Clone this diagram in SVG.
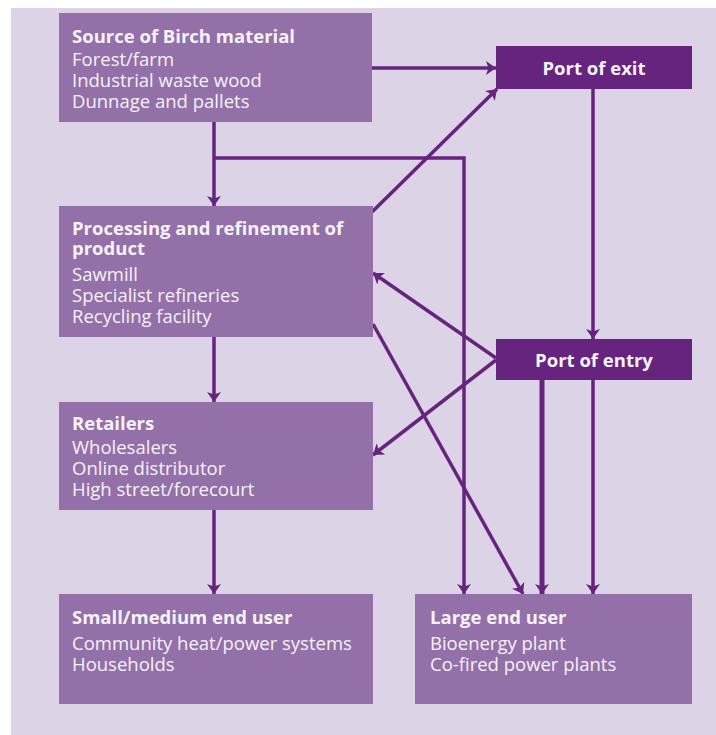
<svg xmlns="http://www.w3.org/2000/svg" width="716" height="735" viewBox="0 0 716 735">
<defs>
<style>
.bg{fill:#dcd4e6}
.box{fill:#9470a9}
.port{fill:#66247e}
.t{font-family:"Open Sans","Noto Sans",sans-serif;font-size:18.5px;fill:#f6f2f9}
.b{font-weight:bold}
.c{fill:none;stroke:#66247e;stroke-width:3.5}
.w{stroke-width:5}
</style>
<marker id="ah" viewBox="0 0 10 14" refX="10" refY="7" markerWidth="10" markerHeight="14" markerUnits="userSpaceOnUse" orient="auto">
<path d="M0,0 L10,7 L0,14 L2.5,7 Z" fill="#66247e"/>
</marker>
</defs>
<rect x="11" y="8" width="705" height="727" class="bg"/>
<g id="connectors">
<line class="c" x1="372" y1="68" x2="496" y2="68" marker-end="url(#ah)"/>
<line class="c" x1="214" y1="122" x2="214" y2="206" marker-end="url(#ah)"/>
<polyline class="c" points="214,158 464,158 464,594" marker-end="url(#ah)"/>
<line class="c" x1="372" y1="212" x2="497" y2="89" marker-end="url(#ah)"/>
<line class="c" x1="496" y1="358" x2="373" y2="273" marker-end="url(#ah)"/>
<line class="c" x1="496" y1="360" x2="373" y2="455" marker-end="url(#ah)"/>
<line class="c" x1="373" y1="324" x2="523" y2="594" marker-end="url(#ah)"/>
<line class="c" x1="593" y1="89" x2="593" y2="339" marker-end="url(#ah)"/>
<line class="c w" x1="542" y1="380" x2="542" y2="594" marker-end="url(#ah)"/>
<line class="c" x1="593" y1="380" x2="593" y2="594" marker-end="url(#ah)"/>
<line class="c" x1="214" y1="337" x2="214" y2="402" marker-end="url(#ah)"/>
<line class="c" x1="214" y1="510" x2="214" y2="594" marker-end="url(#ah)"/>
</g>
<g id="source">
<rect class="box" x="59" y="13" width="313" height="109"/>
<text class="t b" x="72" y="43">Source of Birch material</text>
<text class="t" x="72" y="66">Forest/farm</text>
<text class="t" x="72" y="87">Industrial waste wood</text>
<text class="t" x="72" y="108">Dunnage and pallets</text>
</g>
<g id="port-exit">
<rect class="port" x="496" y="46" width="196" height="43"/>
<text class="t b" x="594" y="75" text-anchor="middle">Port of exit</text>
</g>
<g id="processing">
<rect class="box" x="59" y="206" width="314" height="131"/>
<text class="t b" x="72" y="235">Processing and refinement of</text>
<text class="t b" x="72" y="255">product</text>
<text class="t" x="72" y="281">Sawmill</text>
<text class="t" x="72" y="302">Specialist refineries</text>
<text class="t" x="72" y="323">Recycling facility</text>
</g>
<g id="port-entry">
<rect class="port" x="496" y="339" width="196" height="41"/>
<text class="t b" x="594" y="367" text-anchor="middle">Port of entry</text>
</g>
<g id="retailers">
<rect class="box" x="59" y="402" width="314" height="108"/>
<text class="t b" x="72" y="430">Retailers</text>
<text class="t" x="72" y="454">Wholesalers</text>
<text class="t" x="72" y="475">Online distributor</text>
<text class="t" x="72" y="496">High street/forecourt</text>
</g>
<g id="small-user">
<rect class="box" x="59" y="594" width="314" height="110"/>
<text class="t b" x="72" y="624">Small/medium end user</text>
<text class="t" x="72" y="650">Community heat/power systems</text>
<text class="t" x="72" y="671">Households</text>
</g>
<g id="large-user">
<rect class="box" x="415" y="594" width="277" height="110"/>
<text class="t b" x="430" y="624">Large end user</text>
<text class="t" x="430" y="650">Bioenergy plant</text>
<text class="t" x="430" y="671">Co-fired power plants</text>
</g>
</svg>
